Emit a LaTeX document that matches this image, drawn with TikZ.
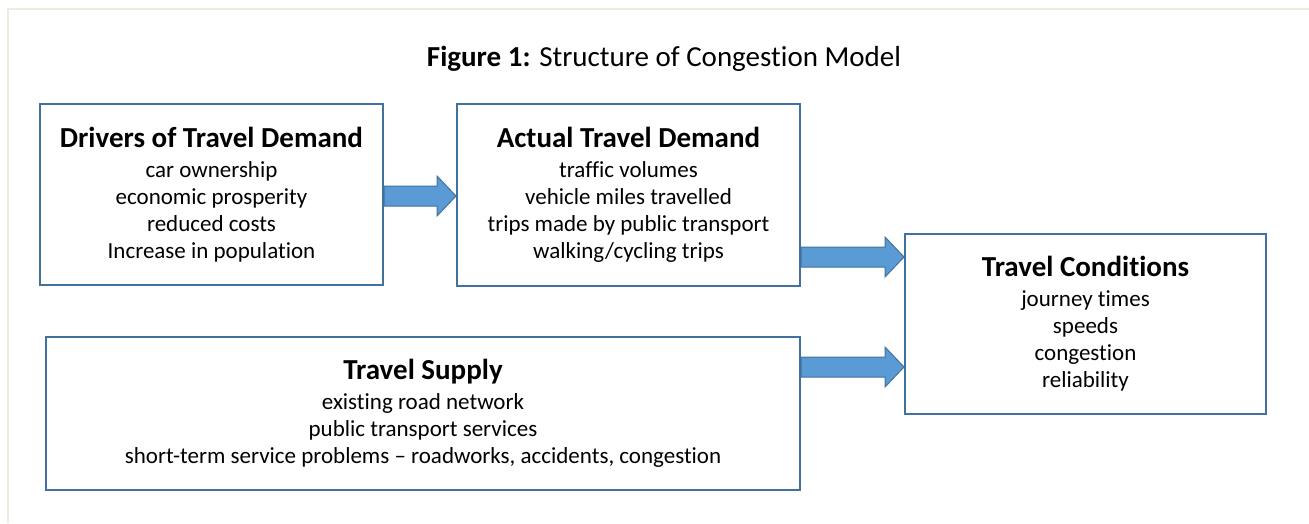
\documentclass[tikz,border=0pt]{standalone}
\usepackage{fontspec}
\setmainfont[Ligatures={TeX,NoCommon}]{Carlito}
\usetikzlibrary{calc}

\definecolor{boxblue}{RGB}{65,113,156}
\definecolor{arrowblue}{RGB}{91,155,213}
\definecolor{pageedge}{RGB}{238,235,224}

\newcommand{\boxtitle}[1]{{\fontsize{29}{32}\selectfont\bfseries #1}\\[3pt]}

% block arrow from the east side of #1 to the west side of #2 at height #3
\newcommand{\fatarrow}[3]{%
  \draw [blockarrow] ($(#1.east |- 0,#3)+(0,-10)$) -- ($(#2.west |- 0,#3)+(-19,-10)$)
    -- ($(#2.west |- 0,#3)+(-19,-20)$) -- (#2.west |- 0,#3)
    -- ($(#2.west |- 0,#3)+(-19,20)$) -- ($(#2.west |- 0,#3)+(-19,10)$)
    -- ($(#1.east |- 0,#3)+(0,10)$) -- cycle;}

\begin{document}
\begin{tikzpicture}[x=1pt, y=-1pt,
    textbox/.style={draw=boxblue, line width=2pt, fill=white, align=center,
      inner sep=0pt, font=\fontsize{23}{27}\selectfont},
    blockarrow/.style={draw=boxblue, line width=1pt, fill=arrowblue}]
  \useasboundingbox (0, 0) rectangle (1309, 523);
  \draw [pageedge, line width=2pt] (8, 523) -- (8, 9) -- (1309, 9);

  \node (title) at (664, 59) {\fontsize{29}{32}\selectfont\textbf{Figure 1:} Structure of Congestion Model};

  \node [textbox, minimum width=343, minimum height=181] (drivers) at (211.5, 194.5)
    {\boxtitle{Drivers of Travel Demand}
     car ownership\\ economic prosperity\\ reduced costs\\ Increase in population};
  \node [textbox, minimum width=343, minimum height=182] (actual) at (628.5, 195)
    {\boxtitle{Actual Travel Demand}
     traffic volumes\\ vehicle miles travelled\\ trips made by public transport\\ walking/cycling trips};
  \node [textbox, minimum width=361, minimum height=180] (conditions) at (1085.5, 324)
    {\boxtitle{Travel Conditions}
     journey times\\ speeds\\ congestion\\ reliability};
  \node [textbox, minimum width=754, minimum height=153] (supply) at (423, 413.5)
    {\boxtitle{Travel Supply}
     existing road network\\ public transport services\\
     short-term service problems -- roadworks, accidents, congestion};

  \fatarrow{drivers}{actual}{196}
  \fatarrow{actual}{conditions}{257}
  \fatarrow{supply}{conditions}{367}
\end{tikzpicture}
\end{document}
